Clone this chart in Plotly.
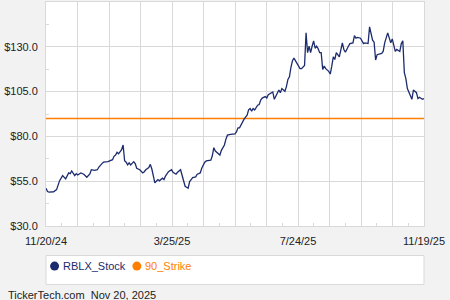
import plotly.graph_objects as go

# ---- data ----
trade_day = [0, 1, 2, 5, 7, 8, 9, 11, 12, 13, 15, 16, 17, 19, 20, 21, 23, 25, 27, 29,
             30, 32, 34, 35, 37, 38, 41, 42, 44, 45, 46, 47, 48, 50, 51, 52, 53, 54, 55, 56,
             58, 59, 60, 62, 64, 65, 66, 68, 69, 70, 71, 72, 74, 75, 77, 78, 79, 81, 83, 84,
             86, 87, 89, 90, 91, 92, 94, 95, 96, 97, 99, 100, 101, 102, 103, 105, 106, 107, 109, 110,
             111, 112, 114, 115, 116, 118, 119, 120, 122, 124, 125, 126, 127, 128, 130, 131, 133, 134, 135, 136,
             137, 138, 140, 141, 142, 143, 145, 146, 147, 149, 150, 151, 153, 154, 155, 156, 158, 159, 160, 161,
             162, 163, 164, 165, 167, 168, 169, 171, 172, 173, 174, 175, 176, 177, 178, 179, 180, 181, 182, 183,
             184, 185, 187, 188, 189, 190, 191, 192, 194, 195, 196, 197, 198, 200, 201, 203, 204, 205, 206, 208,
             209, 210, 211, 213, 214, 215, 216, 217, 218, 219, 220, 222, 223, 224, 226, 227, 228, 229, 230, 231,
             232, 234, 235, 236, 237, 238, 239, 241, 242, 243, 245, 246, 247, 249, 250]
close = [51.1, 49.2, 48.9, 49.1, 50.3, 52.6, 55.3, 58.1, 57.2, 56.3, 59.6, 59.2, 60.7, 58.1, 59.2, 58.5, 59.6, 58.9, 57.2, 59.1,
         61.4, 61.1, 61.4, 62.9, 64.8, 65.6, 65.9, 66.4, 67.0, 68.9, 69.6, 71.1, 70.3, 72.6, 75.2, 66.4, 65.6, 64.1, 65.2, 64.1,
         65.9, 64.8, 62.2, 61.4, 59.6, 60.3, 61.4, 62.6, 64.4, 61.8, 58.1, 54.1, 55.9, 55.2, 56.7, 55.9, 57.8, 60.3, 61.4, 60.0,
         58.9, 60.0, 61.4, 58.5, 56.3, 52.2, 51.1, 54.8, 55.9, 57.0, 57.4, 58.9, 59.2, 59.6, 62.2, 65.6, 66.3, 66.3, 66.7, 69.2,
         73.7, 71.8, 70.3, 69.6, 72.2, 75.2, 78.5, 80.7, 81.1, 81.1, 81.4, 82.6, 84.8, 84.8, 88.1, 89.6, 91.8, 94.8, 95.6, 94.1,
         95.6, 94.8, 97.4, 97.8, 100.3, 101.4, 102.2, 101.4, 103.3, 104.4, 104.8, 100.7, 103.7, 105.9, 104.4, 106.7, 105.2, 107.8, 111.8, 113.3,
         118.5, 122.2, 123.7, 122.2, 118.5, 117.8, 117.8, 119.6, 137.8, 126.7, 130.3, 126.7, 130.3, 133.3, 129.2, 130.3, 128.9, 126.7, 126.7, 117.4,
         119.2, 117.8, 116.3, 114.8, 119.2, 124.4, 122.9, 126.7, 124.4, 129.2, 132.2, 128.5, 127.0, 130.3, 131.8, 132.2, 136.3, 134.8, 135.2, 134.8,
         132.9, 131.8, 132.2, 131.8, 141.1, 137.8, 133.7, 132.6, 122.6, 125.6, 125.9, 126.3, 127.4, 132.2, 137.8, 134.8, 132.2, 134.4, 131.1, 127.4,
         128.5, 127.4, 131.8, 133.3, 115.6, 112.2, 106.7, 102.2, 100.7, 105.9, 104.4, 101.1, 101.8, 100.7, 101.1]
strike = 90.0
series_names = ["RBLX_Stock", "90_Strike"]
x_tick_labels = ["11/20/24", "3/25/25", "7/24/25", "11/19/25"]
y_tick_values = [30, 55, 80, 105, 130]
footer = "TickerTech.com\u00a0\u00a0Nov 20, 2025"

NAVY = "#1c2b6e"
ORANGE = "#ff8000"
GRID = "#d9d9d9"
TXT = "#222222"

last_day = trade_day[-1]
n_div = 12
grid_vals = [last_day * k / n_div for k in range(n_div + 1)]
grid_text = []
li = 0
for k in range(n_div + 1):
    if k % 4 == 0:
        grid_text.append(x_tick_labels[li]); li += 1
    else:
        grid_text.append("")

fig = go.Figure()
fig.add_trace(go.Scatter(x=[trade_day[0], trade_day[-1]], y=[strike, strike], mode="lines",
                         line=dict(color=ORANGE, width=1.5), name=series_names[1], hoverinfo="skip"))
fig.add_trace(go.Scatter(x=trade_day, y=close, mode="lines",
                         line=dict(color=NAVY, width=1.3), name=series_names[0], hoverinfo="skip"))

fig.update_layout(
    width=450, height=300,
    margin=dict(l=46, r=26, t=2, b=74),
    paper_bgcolor="#f2f2f2", plot_bgcolor="#ffffff",
    showlegend=False,
    font=dict(family="Liberation Sans, Arial, sans-serif", size=11, color=TXT),
)
fig.update_xaxes(
    range=[0, last_day], tickmode="array", tickvals=grid_vals, ticktext=grid_text,
    showgrid=True, gridcolor=GRID, gridwidth=1, ticks="", zeroline=False,
    showline=True, linecolor=GRID, linewidth=1, mirror=True,
    tickfont=dict(size=11, color=TXT), ticklabelstandoff=5,
    minor=dict(tickmode="linear", tick0=last_day / 24, dtick=last_day / 12,
               ticks="inside", ticklen=3, tickcolor=GRID, showgrid=False),
)
fig.update_yaxes(
    range=[30, 155], tickmode="array", tickvals=y_tick_values + [155],
    ticktext=["$%.1f" % v for v in y_tick_values] + [""],
    showgrid=True, gridcolor=GRID, gridwidth=1, ticks="", zeroline=False,
    showline=True, linecolor=GRID, linewidth=1, mirror=True,
    tickfont=dict(size=11, color=TXT), ticklabelstandoff=5,
    minor=dict(tickmode="linear", tick0=42.5, dtick=25,
               ticks="inside", ticklen=3, tickcolor=GRID, showgrid=False),
)

# legend box (manual, to match the reference layout)
fig.add_shape(type="rect", xref="paper", yref="paper", x0=0, x1=1, y0=-0.261, y1=-0.1317,
              line=dict(color=GRID, width=1), fillcolor="#ffffff", layer="above")
leg_y = -0.179
for cx, tx, name, col in [(0.0227, 0.040, series_names[0], NAVY), (0.2404, 0.256, series_names[1], ORANGE)]:
    fig.add_shape(type="circle", xref="paper", yref="paper", xsizemode="pixel", ysizemode="pixel",
                  xanchor=cx, yanchor=leg_y, x0=-4.5, x1=4.5, y0=-4.5, y1=4.5,
                  fillcolor=col, line=dict(color=col, width=0))
    fig.add_annotation(x=tx, y=leg_y, xref="paper", yref="paper", xanchor="left", yanchor="middle",
                       text=name, showarrow=False, font=dict(size=11, color=col))

fig.add_annotation(x=-0.1049, y=-0.31, xref="paper", yref="paper", xanchor="left", yanchor="middle",
                   text=footer, showarrow=False, font=dict(size=11, color=TXT))

fig.write_html("out.html", config={"displayModeBar": False})
